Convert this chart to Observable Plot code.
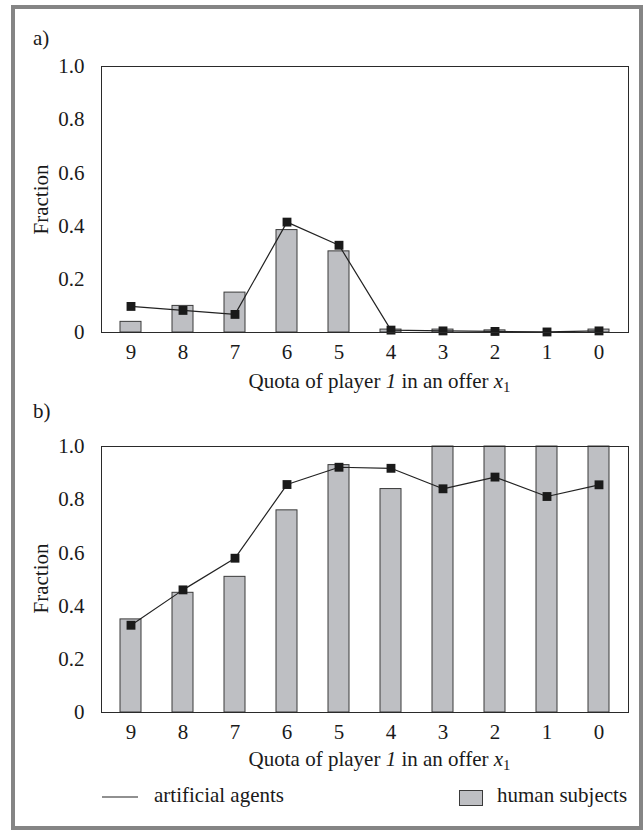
<!DOCTYPE html>
<html>
<head>
<meta charset="utf-8">
<script src="https://cdn.jsdelivr.net/npm/d3@7"></script>
<script src="https://cdn.jsdelivr.net/npm/@observablehq/plot@0.6"></script>
<style>
  html, body { margin: 0; padding: 0; background: #fff; }
  #page { position: relative; width: 644px; height: 831px; overflow: hidden; font-family: "Liberation Serif", "Times New Roman", serif; color: #1a1a1a; }
  #border { position: absolute; left: 11px; top: 5px; width: 632px; height: 825px; box-sizing: border-box; border: 4px solid #858585; }
  .t { position: absolute; font-size: 21px; line-height: 21px; white-space: nowrap; }
  .panel { position: absolute; left: 0; }
  .title { position: absolute; left: 116px; width: 527px; text-align: center; font-size: 21px; line-height: 21px; white-space: nowrap; }
  .title sub { font-size: 0.7em; vertical-align: -0.3em; line-height: 0; font-style: normal; }
  .ylab { position: absolute; width: 200px; text-align: center; font-size: 21px; line-height: 21px; transform: rotate(-90deg); transform-origin: 100px 10.5px; }
</style>
</head>
<body>
<div id="page">
  <div id="border"></div>
  <div class="t" style="left:33px; top:28px;">a)</div>
  <div class="t" style="left:33px; top:401px;">b)</div>
  <div id="pa" class="panel" style="top:40px;"></div>
  <div id="pb" class="panel" style="top:420px;"></div>
  <div class="ylab" style="left:-59px; top:189px;">Fraction</div>
  <div class="ylab" style="left:-59px; top:568px;">Fraction</div>
  <div class="title" style="top:371px;">Quota of player <i>1</i> in an offer <i>x</i><sub>1</sub></div>
  <div class="title" style="top:749px;">Quota of player <i>1</i> in an offer <i>x</i><sub>1</sub></div>
  <div id="legend"></div>
</div>
<script>
// ---- data ----
const categories = ["9", "8", "7", "6", "5", "4", "3", "2", "1", "0"];
const humanA  = [0.040, 0.100, 0.150, 0.385, 0.305, 0.011, 0.011, 0.008, 0.000, 0.011];
const agentsA = [0.098, 0.083, 0.068, 0.415, 0.328, 0.009, 0.006, 0.004, 0.002, 0.006];
const humanB  = [0.350, 0.450, 0.510, 0.760, 0.930, 0.840, 1.000, 1.000, 1.000, 1.000];
const agentsB = [0.328, 0.461, 0.580, 0.857, 0.922, 0.918, 0.841, 0.885, 0.812, 0.856];
const yTicks = [0, 0.2, 0.4, 0.6, 0.8, 1.0];
const legendLabels = ["artificial agents", "human subjects"];

const barFill = "#bebfc3";
const barStroke = "#3a3a3a";
const ink = "#1a1a1a";

function panel(human, agents) {
  const rows = categories.map((c, i) => ({q: c, human: human[i], agents: agents[i]}));
  return Plot.plot({
    width: 644,
    height: 320,
    marginLeft: 101,
    marginRight: 16,
    marginTop: 26,
    marginBottom: 28,
    style: {fontFamily: "Liberation Serif, Times New Roman, serif", fontSize: "21px", color: ink, background: "transparent", overflow: "visible"},
    x: {type: "band", domain: categories, paddingInner: 0.6, paddingOuter: 0.3, label: null},
    y: {domain: [0, 1], label: null},
    marks: [
      Plot.barY(rows, {x: "q", y: "human", fill: barFill, stroke: barStroke, strokeWidth: 1}),
      Plot.line(rows, {x: "q", y: "agents", stroke: "#222", strokeWidth: 1.2}),
      Plot.dot(rows, {x: "q", y: "agents", symbol: "square", r: 5, fill: ink, stroke: "none"}),
      Plot.frame({stroke: "#2a2a2a", strokeWidth: 1}),
      Plot.axisY({ticks: yTicks, tickSize: 0, tickPadding: 17, tickFormat: d => d === 0 ? "0" : d.toFixed(1), label: null}),
      Plot.axisX({tickSize: 0, tickPadding: 12, label: null})
    ]
  });
}

document.getElementById("pa").appendChild(panel(humanA, agentsA));
document.getElementById("pb").appendChild(panel(humanB, agentsB));

// legend
const lg = document.getElementById("legend");
lg.innerHTML =
  `<svg style="position:absolute;left:0;top:780px" width="644" height="40">
     <line x1="102" x2="138" y1="17" y2="17" stroke="#222" stroke-width="1.2"></line>
     <rect x="459.5" y="10.5" width="23" height="15" fill="${barFill}" stroke="${barStroke}" stroke-width="1"></rect>
   </svg>
   <div class="t" style="left:154px; top:785px;">${legendLabels[0]}</div>
   <div class="t" style="left:497px; top:785px;">${legendLabels[1]}</div>`;
</script>
</body>
</html>
